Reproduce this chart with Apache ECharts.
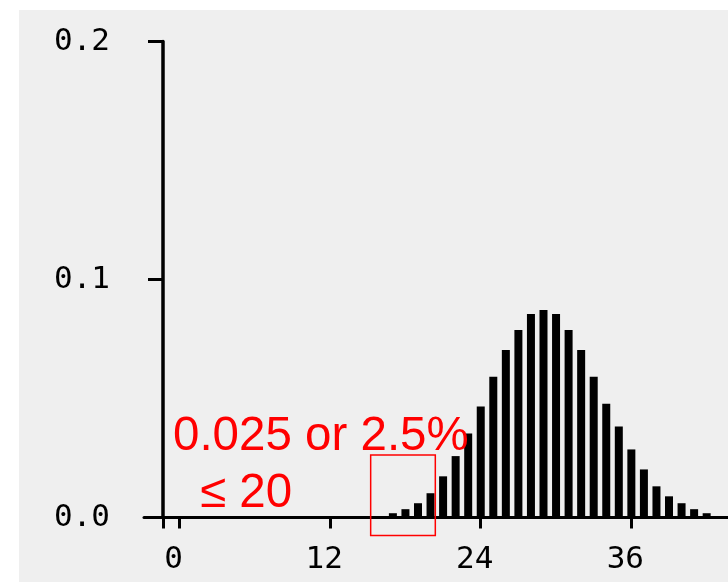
<!DOCTYPE html>
<html>
<head>
<meta charset="utf-8">
<script src="https://cdn.jsdelivr.net/npm/echarts@6/dist/echarts.min.js"></script>
<style>
  html, body { margin: 0; padding: 0; background: #ffffff; }
  #panel { position: absolute; left: 19px; top: 10px; width: 709px; height: 572px; background: #efefef; }
  #chart { position: absolute; left: 0; top: 0; width: 728px; height: 582px; }
</style>
</head>
<body>
<div id="panel"></div>
<div id="chart"></div>
<script>
/* ---------- data ---------- */
const xValues = [17, 18, 19, 20, 21, 22, 23, 24, 25, 26, 27, 28, 29,
                 30, 31, 32, 33, 34, 35, 36, 37, 38, 39, 40, 41, 42];
const probs   = [0.0018, 0.0035, 0.0060, 0.0102, 0.0173, 0.0258, 0.0353, 0.0466, 0.0591,
                 0.0704, 0.0788, 0.0855, 0.0872, 0.0855, 0.0788, 0.0704, 0.0591, 0.0478,
                 0.0382, 0.0286, 0.0202, 0.0131, 0.0089, 0.0060, 0.0035, 0.0018];
const xTicks  = [0, 12, 24, 36];
const yTicks  = [0, 0.1, 0.2];
const noteLine1 = "0.025 or 2.5%";
const noteLine2 = "\u2264 20";
const boxRange  = { x0: 15.23, x1: 20.38, yTop: 0.0263 };

const axisFont = { fontFamily: "DejaVu Sans Mono", fontSize: 31, color: "#000" };

const chart = echarts.init(document.getElementById("chart"));

chart.setOption({
    animation: false,
    grid: { left: 144, right: 0, top: 41.5, bottom: 64.5 },
    xAxis: {
        type: "value",
        min: -2.83,
        max: 43.7,
        splitLine: { show: false },
        axisLine: { lineStyle: { color: "#000", width: 3 } },
        // the -1.31 tick is the y axis running below the x axis
        axisTick: { customValues: [-1.31].concat(xTicks), length: 11, lineStyle: { color: "#000", width: 3 } },
        axisLabel: Object.assign({ customValues: xTicks, margin: 27, padding: [0, 12, 0, 0],
                                   formatter: (v) => String(v) }, axisFont),
    },
    yAxis: {
        type: "value",
        min: 0,
        max: 0.2,
        offset: -19,
        splitLine: { show: false },
        axisLine: { show: true, onZero: false, lineStyle: { color: "#000", width: 3.5 } },
        axisTick: { show: true, customValues: yTicks, length: 15, lineStyle: { color: "#000", width: 3 } },
        axisLabel: Object.assign({ customValues: yTicks, margin: 53, padding: [6, 0, 0, 0],
                                   formatter: (v) => v.toFixed(1) }, axisFont),
    },
    series: [{
        type: "bar",
        barWidth: 8,
        itemStyle: { color: "#000" },
        data: xValues.map((x, i) => [x, probs[i]]),
    }],
});

/* ---------- red annotation ---------- */
const p0 = chart.convertToPixel({ gridIndex: 0 }, [boxRange.x0, boxRange.yTop]);
const p1 = chart.convertToPixel({ gridIndex: 0 }, [boxRange.x1, 0]);
chart.setOption({
    graphic: [
        {
            type: "rect",
            shape: { x: p0[0], y: p0[1], width: p1[0] - p0[0], height: p1[1] + 18 - p0[1] },
            style: { fill: "none", stroke: "#ff0000", lineWidth: 1.5 },
            z: 10,
        },
        {
            type: "text", left: 173, top: 413, z: 10,
            style: { text: noteLine1, fill: "#ff0000", font: "47.5px 'Liberation Sans'" },
        },
        {
            type: "text", left: 200, top: 470, z: 10,
            style: { text: noteLine2, fill: "#ff0000", font: "47.5px 'Liberation Sans'" },
        },
    ],
});
</script>
</body>
</html>
